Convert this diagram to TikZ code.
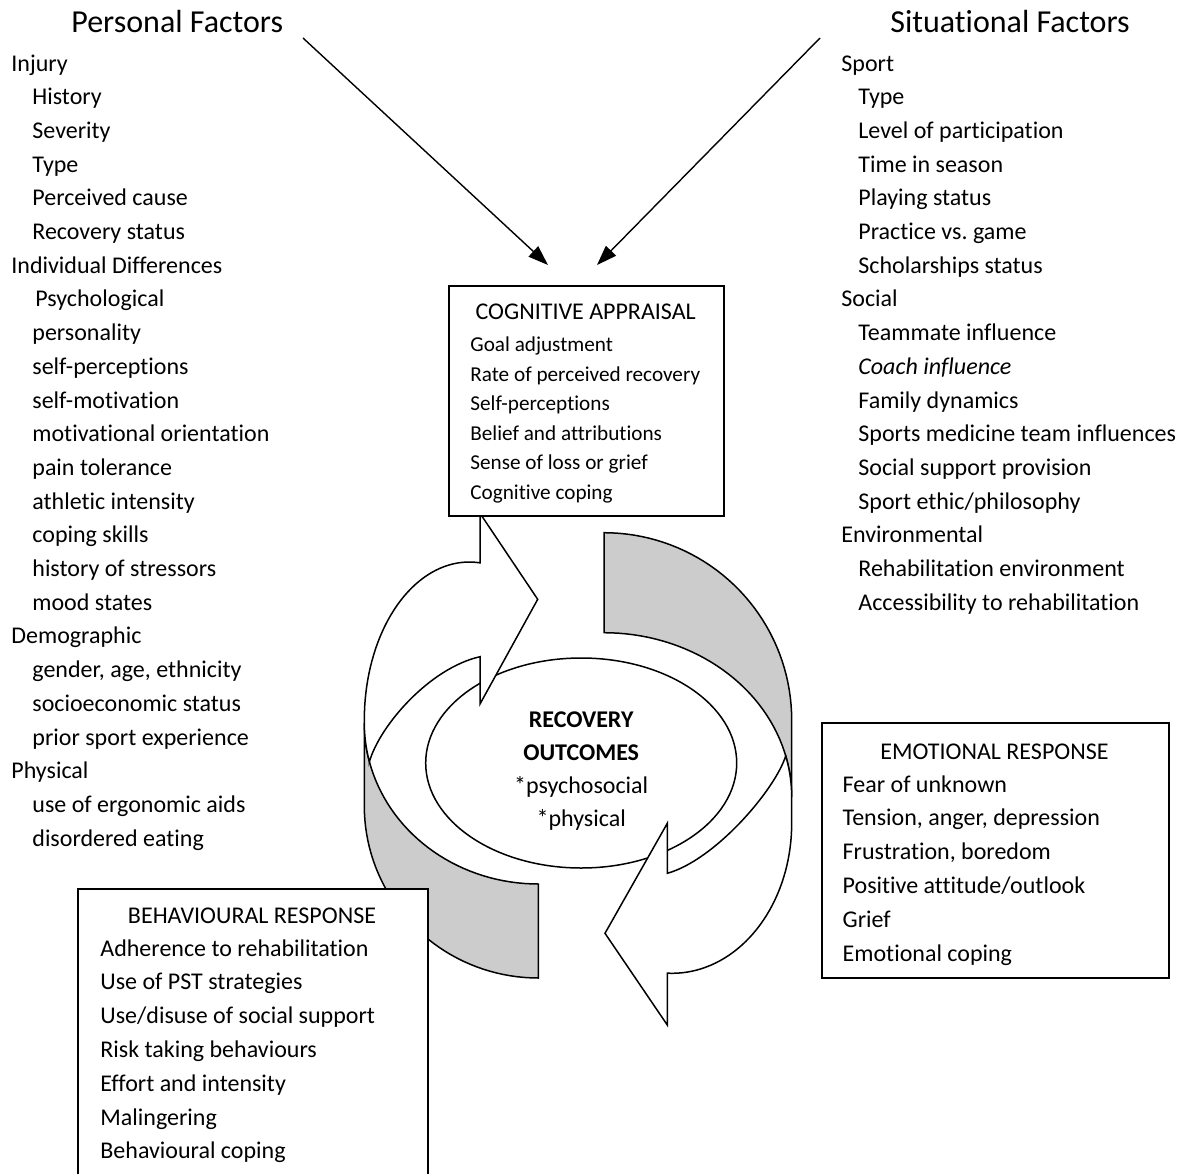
\documentclass[tikz,border=0pt]{standalone}
\usepackage{fontspec}
\setmainfont{Carlito}[Ligatures=NoCommon]
\usetikzlibrary{arrows.meta,shapes.geometric}
\frenchspacing
\begin{document}
\begin{tikzpicture}[x=0.5pt, y=-0.5pt,
  txt/.style={anchor=base west, inner sep=0pt, font=\fontsize{12}{14}\selectfont},
  ctxt/.style={anchor=base, inner sep=0pt, font=\fontsize{12}{14}\selectfont},
  cogtxt/.style={anchor=base west, inner sep=0pt, font=\fontsize{10.6}{13}\selectfont},
  ttl/.style={anchor=base west, inner sep=0pt, font=\fontsize{16}{19}\selectfont},
  boxn/.style={draw, line width=1pt, fill=white, anchor=north west, inner sep=0pt},
  ring/.style={draw, line width=0.75pt, line join=miter},
  band/.style={ring, fill=gray!40},
  warrow/.style={ring, fill=white},
  factor/.style={line width=0.7pt, -{Triangle[length=10pt,width=7pt]}}
]
\fill[white] (0,0) rectangle (1180,1174);
\useasboundingbox (0,0) rectangle (1180,1174);

% gray bands (inside of ribbon)
\filldraw[band] (604,532.7)
  -- plot[domain=-90:0, samples=40, variable=\t] ({604+187.7*cos(\t)}, {720+187.3*sin(\t)})
  -- (791.7,797)
  -- plot[domain=0:-90, samples=40, variable=\t] ({604+187.7*cos(\t)}, {797+164.3*sin(\t)})
  -- cycle;
\filldraw[band] (538.3,884)
  -- plot[domain=90:180, samples=40, variable=\t] ({538.3+174*cos(\t)}, {723+161*sin(\t)})
  -- (364.3,806)
  -- plot[domain=180:90, samples=40, variable=\t] ({538.3+174*cos(\t)}, {806+172*sin(\t)})
  -- cycle;

% recovery outcomes ellipse
\node[draw, ellipse, line width=0.75pt, fill=white, minimum width=155.5pt, minimum height=105pt, inner sep=0pt] (rec) at (581.2,763) {};
\node[ctxt, font=\fontsize{12}{14}\selectfont\bfseries] (rec1) at (581.2,727) {RECOVERY};
\node[ctxt, font=\fontsize{12}{14}\selectfont\bfseries] (rec2) at (581.2,760) {OUTCOMES};
\node[ctxt] (rec3) at (581.2,793) {*psychosocial};
\node[ctxt] (rec4) at (581.2,826) {*physical};

% white curved arrows
\filldraw[warrow] (480,513.3) -- (537.7,599.3) -- (480,704) -- (480,656.7)
  .. controls (430,668) and (380,725) .. (369.4,761.7)
  -- plot[domain=166.1:180, samples=10, variable=\t] ({538.3+174*cos(\t)}, {723+161*sin(\t)})
  -- (364.3,720)
  -- plot[domain=-180:-84.15, samples=40, variable=\t] ({469.3+105*cos(\t)}, {720+158*sin(\t)})
  -- cycle;
\filldraw[warrow] (667.3,873.3) -- (667.3,823.3) -- (605,933.3) -- (667.3,1025) -- (667.3,973.3)
  -- plot[domain=92.25:0, samples=40, variable=\t] ({672+119.7*cos(\t)}, {823.3+150*sin(\t)})
  -- (791.7,797)
  -- plot[domain=0:-14.5, samples=8, variable=\t] ({604+187.7*cos(\t)}, {797+164.3*sin(\t)})
  .. controls (775,790) and (715,860) .. (667.3,873.3)
  -- cycle;

% boxes
\node[boxn, minimum width=137.35pt, minimum height=115pt] (cogbox) at (448.3,285) {};
\node[boxn, minimum width=173.8pt, minimum height=127.5pt] (emobox) at (820.7,721.7) {};
\node[boxn, minimum width=174.7pt, minimum height=160pt] (behbox) at (77.3,888.3) {};

% cognitive appraisal
\node[ctxt] (cogt) at (585.7,319.5) {COGNITIVE APPRAISAL};
\foreach \t [count=\i from 0] in {Goal adjustment, Rate of perceived recovery, Self-perceptions, Belief and attributions, Sense of loss or grief, Cognitive coping}
  \node[cogtxt] (cog\i) at (470,{351.5+29.5*\i}) {\t};

% emotional response
\node[ctxt] (emot) at (994.5,759) {EMOTIONAL RESPONSE};
\foreach \t [count=\i from 0] in {Fear of unknown, {Tension, anger, depression}, {Frustration, boredom}, Positive attitude/outlook, Grief, Emotional coping}
  \node[txt] (emo\i) at (842.3,{792+33.8*\i}) {\t};

% behavioural response
\node[ctxt] (beht) at (252,923) {BEHAVIOURAL RESPONSE};
\foreach \t [count=\i from 0] in {Adherence to rehabilitation, Use of PST strategies, Use/disuse of social support, Risk taking behaviours, Effort and intensity, Malingering, Behavioural coping}
  \node[txt] (beh\i) at (100,{956+33.8*\i}) {\t};

% personal factors
\node[ttl] (pft) at (71,32) {Personal Factors};
\foreach \x/\t [count=\i from 0] in {11/Injury, 32/History, 32/Severity, 32/Type, 32/Perceived cause, 32/Recovery status, 11/Individual Differences, 35/Psychological, 32/personality, 32/self-perceptions, 32/self-motivation, 32/motivational orientation, 32/pain tolerance, 32/athletic intensity, 32/coping skills, 32/history of stressors, 32/mood states, 11/Demographic, 32/{gender, age, ethnicity}, 32/socioeconomic status, 32/prior sport experience, 11/Physical, 32/use of ergonomic aids, 32/disordered eating}
  \node[txt] (pf\i) at (\x,{71+33.7*\i}) {\t};

% situational factors
\node[ttl] (sft) at (890,32) {Situational Factors};
\foreach \x/\t [count=\i from 0] in {841/Sport, 858/Type, 858/Level of participation, 858/Time in season, 858/Playing status, 858/{Practice vs.\ game}, 858/Scholarships status, 841/Social, 858/Teammate influence, 858/{\itshape Coach influence}, 858/Family dynamics, 858/Sports medicine team influences, 858/Social support provision, 858/{Sport ethic/philosophy}, 841/Environmental, 858/Rehabilitation environment, 858/Accessibility to rehabilitation}
  \node[txt] (sf\i) at (\x,{71+33.7*\i}) {\t};

% factor arrows
\coordinate (pfs) at (303,38);
\coordinate (pfe) at (548,265);
\coordinate (sfs) at (820,38);
\coordinate (sfe) at (597,265);
\draw[factor] (pfs) -- (pfe);
\draw[factor] (sfs) -- (sfe);
\end{tikzpicture}
\end{document}
